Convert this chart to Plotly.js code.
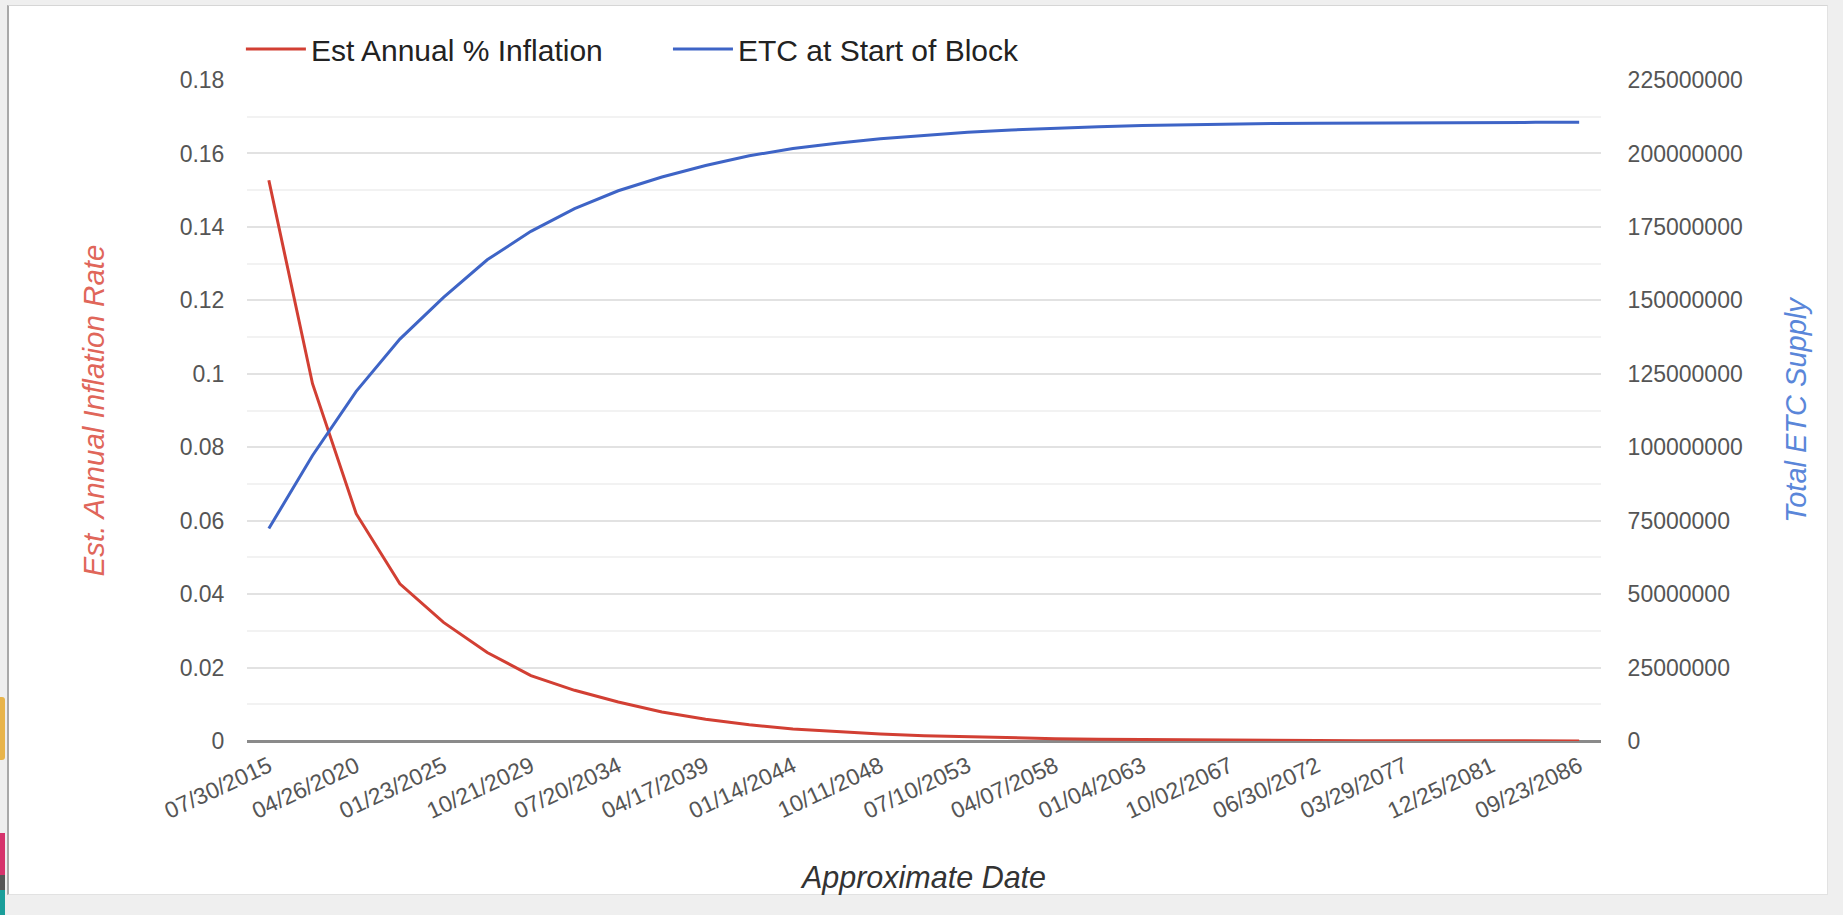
<!DOCTYPE html>
<html>
<head>
<meta charset="utf-8">
<script src="https://cdn.plot.ly/plotly-3.0.1.min.js"></script>
<style>
  html, body { margin: 0; padding: 0; width: 1843px; height: 915px; overflow: hidden; background: #efefef; }
  #card { position: absolute; left: 7px; top: 5px; width: 1818px; height: 888px; background: #ffffff;
          border-left: 2px solid #a9a9a9; border-top: 1px solid #d6d6d6; border-right: 1px solid #e2e2e2; border-bottom: 1px solid #e2e2e2; }
  .edge { position: absolute; left: 0; width: 5px; }
  #chart { position: absolute; left: 0; top: 0; width: 1843px; height: 915px; }
</style>
</head>
<body>
<div id="card"></div>
<div class="edge" style="top:697px;height:63px;background:#e8b44a;border-radius:0 3px 3px 0;"></div>
<div class="edge" style="top:833px;height:42px;background:#d6336c;"></div>
<div class="edge" style="top:875px;height:15px;background:#555;"></div>
<div class="edge" style="top:890px;height:25px;background:#1a9e9a;"></div>
<div id="chart"></div>
<script>
// Approximate dates (categories); every second one is labelled on the axis
const dates = [
  "07/30/2015","12/12/2017","04/26/2020","09/09/2022","01/23/2025","06/08/2027",
  "10/21/2029","03/05/2032","07/20/2034","12/02/2036","04/17/2039","08/30/2041",
  "01/14/2044","05/29/2046","10/11/2048","02/24/2051","07/10/2053","11/23/2055",
  "04/07/2058","08/20/2060","01/04/2063","05/19/2065","10/02/2067","02/14/2070",
  "06/30/2072","11/13/2074","03/29/2077","08/12/2079","12/25/2081","05/09/2084",
  "09/23/2086"
];
// Est Annual % Inflation (left axis)
const inflation = [
  0.1527, 0.0973, 0.0619, 0.0428, 0.0323, 0.0241, 0.0178, 0.0138, 0.0106, 0.0079,
  0.0059, 0.0044, 0.0033, 0.0025, 0.0019, 0.0014, 0.0011, 0.00084, 0.00064, 0.00049,
  0.00038, 0.00029, 0.00022, 0.00017, 0.00013, 0.0001, 0.00008, 0.00006, 0.00005, 0.00004,
  0.00003
];
// ETC at Start of Block (right axis)
const supply = [
  72300000, 97200000, 119000000, 136800000, 151000000, 163800000, 173500000, 181200000,
  187300000, 192000000, 195900000, 199200000, 201700000, 203500000, 205000000, 206200000,
  207200000, 208000000, 208600000, 209100000, 209500000, 209800000, 210000000, 210200000,
  210300000, 210400000, 210450000, 210500000, 210550000, 210580000, 210600000
];
const leftTicks = [0, 0.02, 0.04, 0.06, 0.08, 0.1, 0.12, 0.14, 0.16, 0.18];
const leftTickText = ["0", "0.02", "0.04", "0.06", "0.08", "0.1", "0.12", "0.14", "0.16", "0.18"];
const rightTicks = [0, 25000000, 50000000, 75000000, 100000000, 125000000, 150000000, 175000000, 200000000, 225000000];
const rightTickText = ["0", "25000000", "50000000", "75000000", "100000000", "125000000", "150000000", "175000000", "200000000", "225000000"];
const xTickDates = dates.filter((d, i) => i % 2 === 0);

const FONT = "Arial, 'Liberation Sans', sans-serif";
const RED = "#d23f33";
const BLUE = "#3e64c6";

const traces = [
  { x: dates, y: inflation, type: "scatter", mode: "lines", name: "Est Annual % Inflation",
    line: { color: RED, width: 3 }, yaxis: "y", legend: "legend" },
  { x: dates, y: supply, type: "scatter", mode: "lines", name: "ETC at Start of Block",
    line: { color: BLUE, width: 3 }, yaxis: "y2", legend: "legend2" }
];

const legendFont = { family: FONT, size: 30, color: "#222" };

const layout = {
  width: 1843, height: 915,
  paper_bgcolor: "rgba(0,0,0,0)", plot_bgcolor: "rgba(0,0,0,0)",
  margin: { l: 247, r: 242, t: 80, b: 174, pad: 0 },
  font: { family: FONT, size: 23, color: "#555" },
  showlegend: true,
  legend: { orientation: "h", x: -0.0045, xanchor: "left", y: 1.047, yanchor: "middle",
            font: legendFont, itemwidth: 60, bgcolor: "rgba(0,0,0,0)" },
  legend2: { orientation: "h", x: 0.3109, xanchor: "left", y: 1.047, yanchor: "middle",
            font: legendFont, itemwidth: 60, bgcolor: "rgba(0,0,0,0)" },
  xaxis: {
    type: "category", range: [-0.5, 30.5], tickmode: "array", tickvals: xTickDates, ticktext: xTickDates,
    tickangle: -25, showgrid: false, zeroline: false, showline: false, ticks: "outside", ticklen: 2,
    tickcolor: "rgba(0,0,0,0)", tickfont: { family: FONT, size: 23, color: "#555" }, automargin: false,
    title: { text: "Approximate Date", standoff: 43, font: { family: FONT, size: 30.5, color: "#333", style: "italic" } }
  },
  yaxis: {
    range: [0, 0.18], tickmode: "array", tickvals: leftTicks, ticktext: leftTickText,
    showgrid: true, gridcolor: "#e2e2e2", gridwidth: 2,
    minor: { dtick: 0.01, showgrid: true, gridcolor: "#f2f2f2", gridwidth: 2 },
    zeroline: true, zerolinecolor: "#8a8a8a", zerolinewidth: 3,
    ticks: "outside", ticklen: 17, tickcolor: "rgba(0,0,0,0)",
    tickfont: { family: FONT, size: 23, color: "#555" }, automargin: false,
    title: { text: "Est. Annual Inflation Rate", standoff: 66, font: { family: FONT, size: 29.5, color: "#e0665a", style: "italic" } }
  },
  yaxis2: {
    overlaying: "y", side: "right", range: [0, 225000000], tickmode: "array",
    tickvals: rightTicks, ticktext: rightTickText, showgrid: false, zeroline: false,
    ticks: "outside", ticklen: 21, tickcolor: "rgba(0,0,0,0)",
    tickfont: { family: FONT, size: 23, color: "#555" }, automargin: false,
    title: { text: "Total ETC Supply", standoff: 43, font: { family: FONT, size: 29, color: "#5a86d9", style: "italic" } }
  }
};

Plotly.newPlot("chart", traces, layout, { displayModeBar: false, staticPlot: true });
</script>
</body>
</html>
